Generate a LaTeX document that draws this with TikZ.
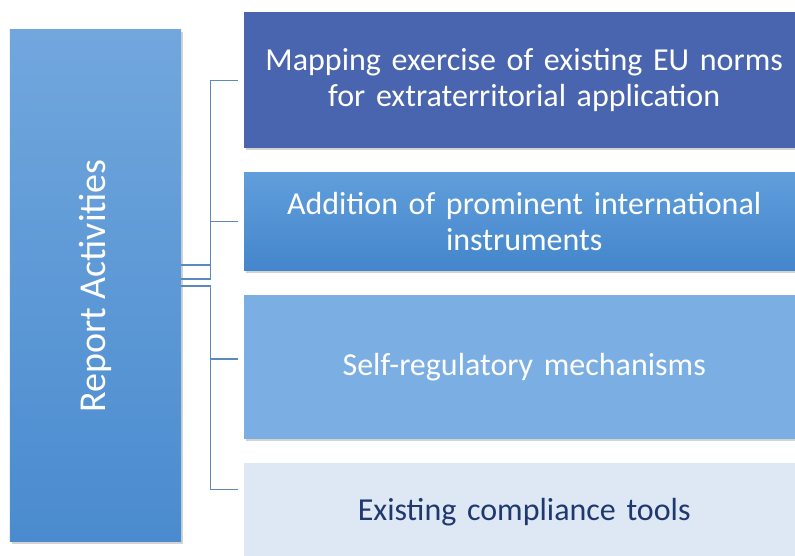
\documentclass[tikz,border=0pt]{standalone}
\usepackage{fontspec}
\setmainfont{Carlito}
\usetikzlibrary{positioning,shadows}

\definecolor{rootTop}{RGB}{113,167,221}
\definecolor{rootBot}{RGB}{74,139,207}
\definecolor{mapBlue}{RGB}{74,101,175}
\definecolor{addTop}{RGB}{96,158,219}
\definecolor{addBot}{RGB}{68,134,204}
\definecolor{selfBlue}{RGB}{123,174,227}
\definecolor{toolBlue}{RGB}{222,232,244}
\definecolor{toolText}{RGB}{31,56,110}
\definecolor{linkBlue}{RGB}{91,138,192}

\begin{document}
\begin{tikzpicture}[x=1bp,y=1bp,node distance=24bp,
   item/.style={rectangle,inner sep=0pt,minimum width=560bp,text width=550bp,
      align=center,text=white,font=\fontsize{32bp}{36bp}\selectfont,
      drop shadow={opacity=0.35,shadow xshift=2bp,shadow yshift=-2bp}},
   link/.style={draw=linkBlue,line width=1.3bp}]
   \useasboundingbox (0,0) rectangle (795,556);
   \clip (0,0) rectangle (795,556);
   \node[rectangle,minimum width=171bp,minimum height=512bp,inner sep=0pt,
      top color=rootTop,bottom color=rootBot,
      drop shadow={opacity=0.35,shadow xshift=2bp,shadow yshift=-2bp},
      label={[rotate=90,text=white,font=\fontsize{38bp}{44bp}\selectfont]center:Report Activities}]
      (root) at (95.5,270) {};
   \node[item,fill=mapBlue,minimum height=136bp,anchor=north west] (map) at (244,544)
      {Mapping exercise of existing EU norms\\for extraterritorial application};
   \node[item,top color=addTop,bottom color=addBot,minimum height=98bp] (add) [below=of map]
      {Addition of prominent international\\instruments};
   \node[item,fill=selfBlue,minimum height=144bp] (self) [below=of add]
      {Self-regulatory mechanisms};
   \node[item,fill=toolBlue,text=toolText,minimum height=98bp] (tools) [below=of self]
      {Existing compliance tools};
   % connector ends
   \coordinate (in1) at ([xshift=-6bp]map.west);
   \coordinate (in2) at ([xshift=-6bp]add.west);
   \coordinate (in3) at ([xshift=-6bp,yshift=8bp]self.west);
   \coordinate (in4) at ([xshift=-6bp,yshift=23bp]tools.west);
   \path[link]
      ([yshift=21bp]root.east) -- ++(29,0) |- (in1)
      ([yshift=7bp]root.east) -- ++(29,0) |- (in2)
      (root.east) -- ++(29,0) |- (in3)
      (root.east) -- ++(29,0) |- (in4);
\end{tikzpicture}
\end{document}
